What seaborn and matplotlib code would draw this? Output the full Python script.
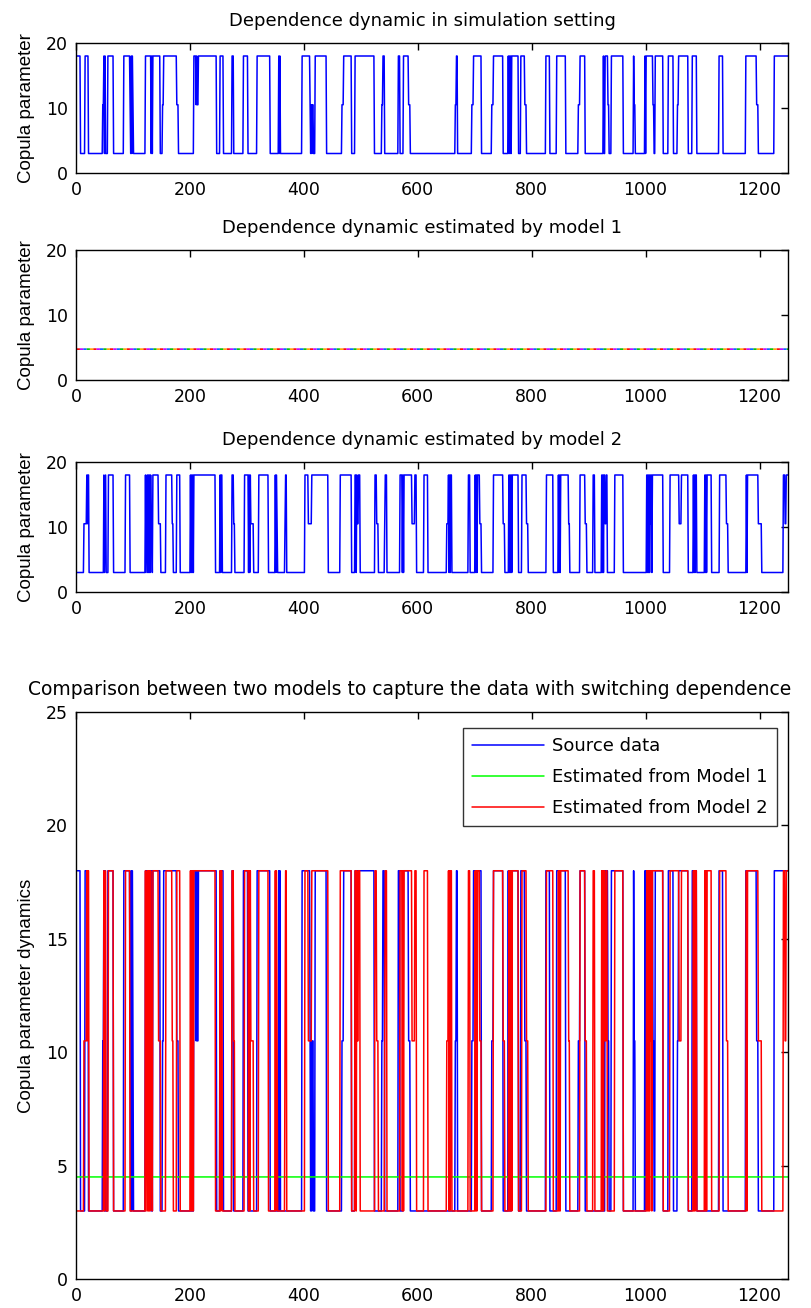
import numpy as np
import pandas as pd
import matplotlib
matplotlib.use("Agg")
import matplotlib.pyplot as plt
import seaborn as sns

# ---- data -------------------------------------------------------------
N_OBS = 1250

# regime switches of the simulated copula parameter: (start index, level)
source_switches = [
    (0, 18), (7, 3), (15, 18), (21, 3), (46, 10.5), (48, 18), (49, 3), (50, 18),
    (51, 3), (55, 18), (65, 3), (83, 18), (94, 10.5), (95, 3), (96, 18), (97, 3),
    (98, 18), (99, 10.5), (100, 3), (121, 18), (131, 3), (132, 18), (133, 3),
    (134, 18), (147, 3), (151, 10.5), (153, 18), (176, 10.5), (179, 3), (206, 18),
    (210, 10.5), (211, 18), (212, 10.5), (214, 18), (246, 3), (252, 18), (258, 3),
    (273, 18), (276, 3), (293, 18), (301, 3), (317, 18), (340, 3), (355, 18),
    (356, 3), (357, 18), (358, 3), (396, 18), (410, 10.5), (411, 3), (412, 10.5),
    (413, 3), (414, 10.5), (416, 3), (419, 18), (439, 3), (466, 10.5), (469, 18),
    (483, 3), (489, 18), (523, 3), (536, 10.5), (538, 18), (541, 3), (565, 18),
    (568, 3), (574, 18), (583, 10.5), (586, 3), (665, 10.5), (667, 18), (669, 3),
    (694, 10.5), (697, 18), (711, 3), (729, 10.5), (732, 18), (749, 3), (758, 18),
    (759, 3), (760, 18), (761, 3), (762, 18), (763, 3), (764, 18), (765, 18),
    (776, 3), (780, 18), (787, 10.5), (790, 3), (824, 18), (831, 3), (843, 18),
    (859, 3), (881, 10.5), (884, 18), (893, 3), (925, 18), (926, 3), (928, 18),
    (933, 10.5), (935, 3), (939, 18), (960, 3), (978, 18), (979, 10.5), (981, 3),
    (998, 18), (999, 3), (1000, 18), (1012, 10.5), (1014, 3), (1016, 18),
    (1030, 3), (1039, 18), (1048, 3), (1055, 10.5), (1057, 18), (1074, 3),
    (1081, 18), (1089, 3), (1128, 18), (1135, 3), (1175, 18), (1194, 10.5),
    (1197, 3), (1225, 18),
]

# regimes recovered by model 2: (start index, level)
model2_switches = [
    (0, 3), (13, 10.5), (18, 18), (19, 10.5), (20, 18), (22, 3), (48, 18), (49, 3),
    (50, 10.5), (51, 18), (52, 3), (56, 18), (65, 3), (86, 18), (94, 3), (121, 18),
    (122, 3), (123, 10.5), (124, 18), (125, 3), (126, 18), (127, 3), (128, 18),
    (129, 3), (130, 18), (131, 10.5), (133, 3), (134, 18), (144, 10.5), (148, 3),
    (157, 18), (168, 10.5), (170, 3), (176, 18), (182, 3), (200, 18), (201, 3),
    (202, 18), (203, 3), (204, 18), (205, 3), (206, 18), (244, 3), (252, 18),
    (253, 3), (254, 18), (256, 3), (273, 18), (276, 10.5), (278, 3), (295, 18),
    (302, 3), (303, 18), (304, 3), (305, 18), (306, 10.5), (311, 3), (320, 18),
    (337, 3), (349, 18), (350, 3), (351, 18), (352, 10.5), (353, 3), (366, 10.5),
    (367, 18), (369, 3), (401, 18), (407, 10.5), (413, 18), (442, 3), (463, 18),
    (483, 3), (489, 18), (491, 3), (492, 18), (493, 10.5), (495, 18), (498, 3),
    (524, 18), (527, 10.5), (530, 3), (541, 10.5), (542, 18), (545, 3), (568, 18),
    (572, 3), (573, 18), (574, 3), (575, 18), (589, 10.5), (594, 18), (597, 3),
    (610, 18), (617, 3), (650, 10.5), (653, 18), (654, 3), (655, 18), (656, 3),
    (657, 18), (659, 3), (688, 18), (691, 3), (700, 18), (701, 3), (702, 18),
    (703, 3), (704, 18), (708, 10.5), (711, 3), (732, 18), (749, 10.5), (752, 3),
    (759, 18), (760, 3), (761, 18), (762, 3), (763, 18), (764, 3), (765, 18),
    (776, 3), (782, 18), (790, 10.5), (793, 3), (825, 18), (837, 3), (846, 18),
    (847, 3), (848, 18), (849, 3), (850, 18), (864, 10.5), (866, 3), (884, 18),
    (893, 10.5), (896, 3), (907, 18), (910, 3), (922, 18), (923, 3), (924, 18),
    (925, 3), (926, 18), (928, 10.5), (930, 18), (932, 3), (945, 18), (960, 3),
    (1001, 18), (1002, 3), (1003, 18), (1004, 3), (1005, 18), (1006, 3),
    (1007, 18), (1008, 10.5), (1009, 18), (1010, 3), (1011, 18), (1030, 3),
    (1042, 18), (1058, 10.5), (1062, 18), (1074, 3), (1083, 18), (1084, 3),
    (1085, 18), (1086, 3), (1087, 18), (1089, 3), (1103, 18), (1104, 3),
    (1105, 18), (1106, 3), (1107, 18), (1115, 3), (1129, 18), (1141, 10.5),
    (1144, 3), (1176, 18), (1177, 3), (1178, 18), (1197, 10.5), (1203, 3),
    (1241, 18), (1244, 10.5), (1246, 18),
]

# model 1 has a single, constant copula parameter
model1_level_panel = 4.75
model1_level_compare = 4.5

x_ticks = [0, 200, 400, 600, 800, 1000, 1200]
y_ticks_small = [0, 10, 20]
y_ticks_big = [0, 5, 10, 15, 20, 25]

titles = [
    "Dependence dynamic in simulation setting",
    "Dependence dynamic estimated by model 1",
    "Dependence dynamic estimated by model 2",
    "Comparison between two models to capture the data with switching dependence",
]
legend_labels = ["Source data", "Estimated from Model 1", "Estimated from Model 2"]


def expand(switches, n=N_OBS):
    starts = [s for s, _ in switches] + [n]
    levels = [v for _, v in switches]
    lengths = np.diff(starts)
    return np.repeat(levels, lengths)


t = np.arange(1, N_OBS + 1)
df = pd.DataFrame({
    "t": t,
    "source": expand(source_switches),
    "model2": expand(model2_switches),
    "model1a": np.full(N_OBS, model1_level_panel),
    "model1b": np.full(N_OBS, model1_level_compare),
})

# ---- figure -----------------------------------------------------------
sns.set_style("white")
plt.rcParams["font.family"] = ["DejaVu Sans"]
plt.rcParams["font.size"] = 13
plt.rcParams["text.color"] = "black"
plt.rcParams["axes.labelcolor"] = "black"
plt.rcParams["xtick.color"] = "black"
plt.rcParams["ytick.color"] = "black"

FS = 13
LABEL_FONT = ["Liberation Sans", "DejaVu Sans"]

W, H = 811, 1308
fig = plt.figure(figsize=(W / 100, H / 100), dpi=100)


def px_axes(left, top, right, bottom):
    return fig.add_axes([left / W, 1 - bottom / H, (right - left) / W, (bottom - top) / H])


def style(ax, yticks, ylim, title, ylabel, title_fs=FS, title_x=0.486):
    ax.set_xlim(0, N_OBS)
    ax.set_ylim(*ylim)
    ax.set_xticks(x_ticks)
    ax.set_yticks(yticks)
    ax.tick_params(direction="in", length=5, width=1, top=True, right=True,
                   labelsize=FS - 0.5, colors="black")
    ax.tick_params(axis="y", pad=6)
    ax.tick_params(axis="x", pad=6)
    for sp in ax.spines.values():
        sp.set_visible(True)
        sp.set_color("black")
        sp.set_linewidth(1.0)
    ttl = ax.set_title(title, fontsize=title_fs, pad=12.5, color="black")
    ttl.set_x(title_x)
    ax.set_ylabel(ylabel, fontsize=13.5, labelpad=8, color="black",
                  family=LABEL_FONT)
    ax.set_xlabel("")


LW = 1.1

ax1 = px_axes(76, 43, 788, 173)
sns.lineplot(data=df, x="t", y="source", ax=ax1, color="#0000ff", linewidth=LW,
             estimator=None, sort=False)
style(ax1, y_ticks_small, (0, 20), titles[0], "Copula parameter")

ax2 = px_axes(76, 250, 788, 380)
for k, c in enumerate(["#ff0000", "#ffa000", "#00c000", "#0060ff", "#c000ff"]):
    sns.lineplot(data=df, x="t", y="model1a", ax=ax2, color=c, linewidth=1.2,
                 estimator=None, sort=False, dashes=False,
                 linestyle=(k * 2, (2, 8)))
style(ax2, y_ticks_small, (0, 20), titles[1], "Copula parameter")

ax3 = px_axes(76, 462, 788, 592)
sns.lineplot(data=df, x="t", y="model2", ax=ax3, color="#0000ff", linewidth=LW,
             estimator=None, sort=False)
style(ax3, y_ticks_small, (0, 20), titles[2], "Copula parameter")

ax4 = px_axes(76, 712, 788, 1279)
sns.lineplot(data=df, x="t", y="source", ax=ax4, color="#0000ff", linewidth=LW,
             estimator=None, sort=False, label=legend_labels[0])
sns.lineplot(data=df, x="t", y="model1b", ax=ax4, color="#00ff00", linewidth=LW,
             estimator=None, sort=False, label=legend_labels[1])
sns.lineplot(data=df, x="t", y="model2", ax=ax4, color="#ff0000", linewidth=LW,
             estimator=None, sort=False, label=legend_labels[2])
style(ax4, y_ticks_big, (0, 25), titles[3], "Copula parameter dynamics",
      title_fs=13.5, title_x=0.469)
leg = ax4.legend(loc="upper right", bbox_to_anchor=(0.9846, 0.972),
                 borderaxespad=0, frameon=True, fancybox=False,
                 edgecolor="black", fontsize=FS,
                 handlelength=4.0, borderpad=0.5, labelspacing=0.72,
                 handletextpad=0.45)
leg.get_frame().set_linewidth(1.0)
for txt in leg.get_texts():
    txt.set_color("black")

fig.savefig("out.png", dpi=100, facecolor="white")
